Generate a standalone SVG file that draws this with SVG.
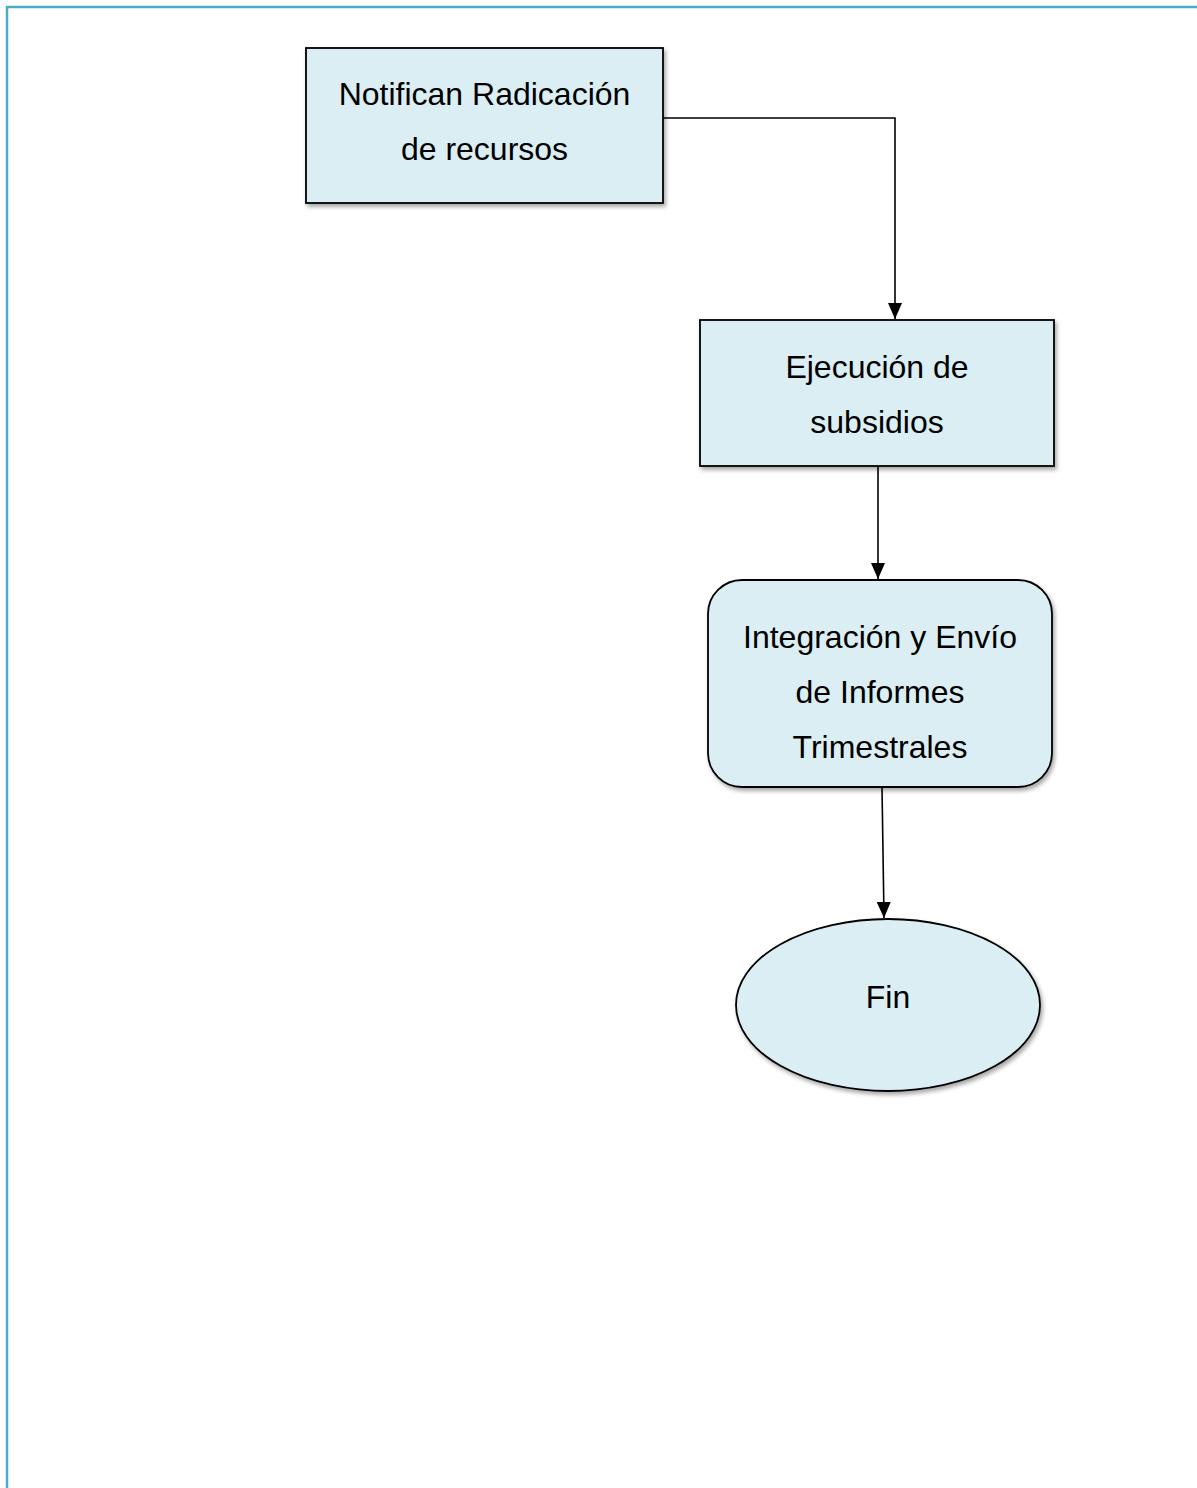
<svg xmlns="http://www.w3.org/2000/svg" width="1197" height="1488" viewBox="0 0 1197 1488">
<style>
.box{fill:#daeef3;stroke:#000;stroke-width:1.8;filter:url(#sh)}
.lbl{font-family:"Liberation Sans",Arial,sans-serif;font-size:32px;fill:#000;text-anchor:middle}
.con{fill:none;stroke:#000;stroke-width:1.6}
</style>
<defs>
<filter id="sh" x="-10%" y="-10%" width="130%" height="130%">
<feGaussianBlur in="SourceAlpha" stdDeviation="2"/>
<feOffset dx="2" dy="3" result="b"/>
<feComponentTransfer><feFuncA type="linear" slope="0.35"/></feComponentTransfer>
<feMerge><feMergeNode/><feMergeNode in="SourceGraphic"/></feMerge>
</filter>
<marker id="arr" viewBox="0 0 16 14" refX="16" refY="7" markerWidth="16" markerHeight="14" markerUnits="userSpaceOnUse" orient="auto">
<path d="M0,0 L16,7 L0,14 Z" fill="#000"/>
</marker>
</defs>
<rect width="1197" height="1488" fill="#fff"/>
<path d="M7,1488 V7 H1197" fill="none" stroke="#4bacc6" stroke-width="2.5"/>
<g id="connectors">
<path class="con" d="M663,118 H895 V319" marker-end="url(#arr)"/>
<path class="con" d="M878,466 V579" marker-end="url(#arr)"/>
<path class="con" d="M882,787 L884,918" marker-end="url(#arr)"/>
</g>
<g id="n1">
<rect class="box" x="306" y="48" width="357" height="155"/>
<text class="lbl" x="484.5" y="105">Notifican Radicación</text>
<text class="lbl" x="484.5" y="160">de recursos</text>
</g>
<g id="n2">
<rect class="box" x="700" y="320" width="354" height="146"/>
<text class="lbl" x="877" y="378">Ejecución de</text>
<text class="lbl" x="877" y="433">subsidios</text>
</g>
<g id="n3">
<rect class="box" x="708" y="580" width="344" height="207" rx="34" ry="34"/>
<text class="lbl" x="880" y="648">Integración y Envío</text>
<text class="lbl" x="880" y="703">de Informes</text>
<text class="lbl" x="880" y="758">Trimestrales</text>
</g>
<g id="n4">
<ellipse class="box" cx="888" cy="1005" rx="152" ry="86"/>
<text class="lbl" x="888" y="1008">Fin</text>
</g>
</svg>
